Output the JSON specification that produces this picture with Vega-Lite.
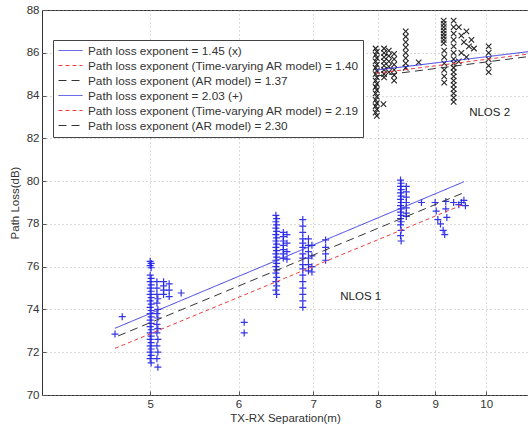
{
  "$schema": "https://vega.github.io/schema/vega-lite/v6.json",
  "width": 486,
  "height": 385,
  "autosize": "none",
  "padding": {"left": 42, "top": 10, "right": 0, "bottom": 33},
  "background": "white",
  "config": {
    "view": {"stroke": "#333", "strokeWidth": 1},
    "font": "Liberation Sans",
    "axis": {
      "labelFont": "Liberation Sans", "labelFontSize": 11.5, "labelColor": "#333",
      "titleFont": "Liberation Sans", "titleFontSize": 11.5, "titleFontWeight": "normal", "titleColor": "#333",
      "domain": false, "gridColor": "#999", "gridDash": [1, 3], "gridOpacity": 0.7,
      "tickColor": "#555", "tickSize": -4, "labelPadding": 7
    }
  },
  "datasets": {
    "nlos1": [
      {"x": 4.65, "y": 72.85}, {"x": 4.72, "y": 73.66},
      {"x": 5.0, "y": 76.25}, {"x": 5.01, "y": 76.15}, {"x": 5.0, "y": 76.05}, {"x": 5.01, "y": 75.95}, {"x": 5.0, "y": 75.6}, {"x": 5.01, "y": 75.45}, {"x": 5.0, "y": 75.3}, {"x": 5.01, "y": 75.15}, {"x": 5.0, "y": 75.0}, {"x": 5.01, "y": 74.85}, {"x": 5.0, "y": 74.7}, {"x": 5.01, "y": 74.55}, {"x": 5.0, "y": 74.4}, {"x": 5.01, "y": 74.25}, {"x": 5.0, "y": 74.1}, {"x": 5.01, "y": 73.95}, {"x": 5.0, "y": 73.8}, {"x": 5.01, "y": 73.65}, {"x": 5.0, "y": 73.5}, {"x": 5.01, "y": 73.35}, {"x": 5.0, "y": 73.2}, {"x": 5.01, "y": 73.05}, {"x": 5.0, "y": 72.9}, {"x": 5.01, "y": 72.75}, {"x": 5.0, "y": 72.6}, {"x": 5.01, "y": 72.45}, {"x": 5.0, "y": 72.3}, {"x": 5.01, "y": 72.15}, {"x": 5.0, "y": 72.0}, {"x": 5.01, "y": 71.85}, {"x": 5.0, "y": 71.7}, {"x": 5.01, "y": 71.5},
      {"x": 5.07, "y": 75.3}, {"x": 5.07, "y": 75.0}, {"x": 5.07, "y": 74.7}, {"x": 5.08, "y": 74.5}, {"x": 5.07, "y": 74.3}, {"x": 5.08, "y": 74.0}, {"x": 5.07, "y": 73.8}, {"x": 5.08, "y": 73.6}, {"x": 5.07, "y": 73.3}, {"x": 5.08, "y": 73.1}, {"x": 5.07, "y": 72.9}, {"x": 5.08, "y": 72.6}, {"x": 5.07, "y": 72.3}, {"x": 5.08, "y": 72.0}, {"x": 5.07, "y": 71.7}, {"x": 5.08, "y": 71.3},
      {"x": 5.14, "y": 75.3}, {"x": 5.14, "y": 75.1}, {"x": 5.14, "y": 74.9}, {"x": 5.14, "y": 74.7}, {"x": 5.2, "y": 75.2}, {"x": 5.2, "y": 74.9}, {"x": 5.2, "y": 74.6}, {"x": 5.33, "y": 74.77},
      {"x": 6.07, "y": 73.4}, {"x": 6.07, "y": 72.9},
      {"x": 6.48, "y": 78.4}, {"x": 6.49, "y": 78.25}, {"x": 6.48, "y": 78.1}, {"x": 6.49, "y": 77.95}, {"x": 6.48, "y": 77.8}, {"x": 6.49, "y": 77.65}, {"x": 6.48, "y": 77.5}, {"x": 6.49, "y": 77.35}, {"x": 6.48, "y": 77.2}, {"x": 6.49, "y": 77.05}, {"x": 6.48, "y": 76.9}, {"x": 6.49, "y": 76.75}, {"x": 6.48, "y": 76.6}, {"x": 6.49, "y": 76.45}, {"x": 6.48, "y": 76.3}, {"x": 6.49, "y": 76.15}, {"x": 6.48, "y": 76.0}, {"x": 6.49, "y": 75.85}, {"x": 6.48, "y": 75.7}, {"x": 6.49, "y": 75.5}, {"x": 6.48, "y": 75.3}, {"x": 6.49, "y": 75.1}, {"x": 6.48, "y": 74.9}, {"x": 6.49, "y": 74.7},
      {"x": 6.58, "y": 77.6}, {"x": 6.58, "y": 77.4}, {"x": 6.58, "y": 77.2}, {"x": 6.58, "y": 77.0}, {"x": 6.58, "y": 76.8}, {"x": 6.58, "y": 76.6}, {"x": 6.58, "y": 76.4}, {"x": 6.63, "y": 77.5}, {"x": 6.63, "y": 77.1}, {"x": 6.63, "y": 76.7}, {"x": 6.63, "y": 76.35},
      {"x": 6.85, "y": 78.2}, {"x": 6.85, "y": 77.9}, {"x": 6.85, "y": 77.6}, {"x": 6.85, "y": 77.3}, {"x": 6.85, "y": 77.1}, {"x": 6.85, "y": 76.9}, {"x": 6.85, "y": 76.6}, {"x": 6.85, "y": 76.4}, {"x": 6.85, "y": 76.1}, {"x": 6.85, "y": 75.9}, {"x": 6.85, "y": 75.6}, {"x": 6.85, "y": 75.3}, {"x": 6.85, "y": 75.0}, {"x": 6.85, "y": 74.7}, {"x": 6.85, "y": 74.4}, {"x": 6.85, "y": 74.1},
      {"x": 6.93, "y": 77.3}, {"x": 6.93, "y": 77.0}, {"x": 6.93, "y": 76.7}, {"x": 6.93, "y": 76.4}, {"x": 6.93, "y": 76.1}, {"x": 6.93, "y": 75.8}, {"x": 6.98, "y": 77.0}, {"x": 6.98, "y": 76.5}, {"x": 6.98, "y": 76.0}, {"x": 6.98, "y": 75.75},
      {"x": 7.18, "y": 77.25}, {"x": 7.18, "y": 76.9}, {"x": 7.18, "y": 76.6}, {"x": 7.18, "y": 76.3},
      {"x": 8.38, "y": 80.05}, {"x": 8.39, "y": 79.9}, {"x": 8.38, "y": 79.75}, {"x": 8.39, "y": 79.6}, {"x": 8.38, "y": 79.45}, {"x": 8.39, "y": 79.3}, {"x": 8.38, "y": 79.15}, {"x": 8.39, "y": 79.0}, {"x": 8.38, "y": 78.85}, {"x": 8.39, "y": 78.7}, {"x": 8.38, "y": 78.55}, {"x": 8.39, "y": 78.4}, {"x": 8.38, "y": 78.25}, {"x": 8.39, "y": 78.1}, {"x": 8.38, "y": 77.95}, {"x": 8.39, "y": 77.7}, {"x": 8.38, "y": 77.45}, {"x": 8.39, "y": 77.2},
      {"x": 8.48, "y": 79.75}, {"x": 8.48, "y": 79.5}, {"x": 8.48, "y": 79.25}, {"x": 8.48, "y": 79.0}, {"x": 8.48, "y": 78.75}, {"x": 8.48, "y": 78.5}, {"x": 8.48, "y": 78.35},
      {"x": 8.75, "y": 79.0},
      {"x": 9.0, "y": 79.0}, {"x": 9.02, "y": 78.6}, {"x": 9.05, "y": 78.2}, {"x": 9.1, "y": 78.0}, {"x": 9.15, "y": 77.7}, {"x": 9.18, "y": 77.5}, {"x": 9.2, "y": 79.05}, {"x": 9.2, "y": 78.7}, {"x": 9.22, "y": 78.3},
      {"x": 9.35, "y": 79.0}, {"x": 9.45, "y": 78.9}, {"x": 9.5, "y": 79.0}, {"x": 9.58, "y": 78.85}, {"x": 9.55, "y": 79.1}
    ],
    "nlos2": [
      {"x": 7.96, "y": 86.2}, {"x": 7.98, "y": 86.05}, {"x": 7.96, "y": 85.9}, {"x": 7.98, "y": 85.75}, {"x": 7.96, "y": 85.6}, {"x": 7.98, "y": 85.45}, {"x": 7.96, "y": 85.3}, {"x": 7.98, "y": 85.15}, {"x": 7.96, "y": 85.0}, {"x": 7.98, "y": 84.85}, {"x": 7.96, "y": 84.7}, {"x": 7.98, "y": 84.55}, {"x": 7.96, "y": 84.4}, {"x": 7.98, "y": 84.25}, {"x": 7.96, "y": 84.1}, {"x": 7.98, "y": 83.95}, {"x": 7.96, "y": 83.8}, {"x": 7.98, "y": 83.65}, {"x": 7.96, "y": 83.5}, {"x": 7.98, "y": 83.35}, {"x": 7.96, "y": 83.2}, {"x": 7.98, "y": 83.05},
      {"x": 8.1, "y": 86.2}, {"x": 8.1, "y": 86.0}, {"x": 8.1, "y": 85.8}, {"x": 8.1, "y": 85.6}, {"x": 8.1, "y": 85.4}, {"x": 8.1, "y": 85.2}, {"x": 8.1, "y": 85.0}, {"x": 8.1, "y": 84.85}, {"x": 8.09, "y": 83.6},
      {"x": 8.18, "y": 86.1}, {"x": 8.18, "y": 85.85}, {"x": 8.18, "y": 85.6}, {"x": 8.18, "y": 85.35}, {"x": 8.18, "y": 85.1},
      {"x": 8.27, "y": 85.95}, {"x": 8.27, "y": 85.7}, {"x": 8.27, "y": 85.45}, {"x": 8.27, "y": 85.2}, {"x": 8.27, "y": 84.95}, {"x": 8.27, "y": 84.7},
      {"x": 8.47, "y": 87.0}, {"x": 8.47, "y": 86.75}, {"x": 8.47, "y": 86.5}, {"x": 8.47, "y": 86.25}, {"x": 8.47, "y": 86.0}, {"x": 8.47, "y": 85.75}, {"x": 8.47, "y": 85.5}, {"x": 8.47, "y": 85.3},
      {"x": 8.7, "y": 85.55},
      {"x": 9.16, "y": 87.5}, {"x": 9.16, "y": 87.35}, {"x": 9.16, "y": 87.2}, {"x": 9.16, "y": 87.05}, {"x": 9.16, "y": 86.9}, {"x": 9.16, "y": 86.75}, {"x": 9.16, "y": 86.6}, {"x": 9.16, "y": 86.45}, {"x": 9.17, "y": 86.1}, {"x": 9.17, "y": 85.8}, {"x": 9.17, "y": 85.5}, {"x": 9.17, "y": 85.2}, {"x": 9.17, "y": 84.9}, {"x": 9.17, "y": 84.6},
      {"x": 9.35, "y": 87.5}, {"x": 9.35, "y": 87.2}, {"x": 9.35, "y": 86.9}, {"x": 9.35, "y": 86.6}, {"x": 9.35, "y": 86.3}, {"x": 9.35, "y": 86.0}, {"x": 9.35, "y": 85.7}, {"x": 9.35, "y": 85.5}, {"x": 9.35, "y": 85.3}, {"x": 9.35, "y": 85.1}, {"x": 9.35, "y": 84.9}, {"x": 9.35, "y": 84.7}, {"x": 9.35, "y": 84.5}, {"x": 9.35, "y": 84.3}, {"x": 9.35, "y": 84.1}, {"x": 9.35, "y": 83.9}, {"x": 9.35, "y": 83.7},
      {"x": 9.45, "y": 87.2}, {"x": 9.5, "y": 86.8}, {"x": 9.55, "y": 86.5}, {"x": 9.6, "y": 87.0}, {"x": 9.65, "y": 86.3}, {"x": 9.7, "y": 86.6}, {"x": 9.5, "y": 86.0}, {"x": 9.6, "y": 85.8}, {"x": 9.75, "y": 86.2}, {"x": 9.45, "y": 85.6},
      {"x": 10.05, "y": 86.3}, {"x": 10.05, "y": 86.0}, {"x": 10.05, "y": 85.7}, {"x": 10.05, "y": 85.4}, {"x": 10.05, "y": 85.1}
    ],
    "fits": [
      {"s": "Path loss exponent = 1.45 (x)", "x": 7.97, "y": 85.19}, {"s": "Path loss exponent = 1.45 (x)", "x": 10.9, "y": 86.05},
      {"s": "Path loss exponent (Time-varying AR model) = 1.40", "x": 7.97, "y": 85.04}, {"s": "Path loss exponent (Time-varying AR model) = 1.40", "x": 10.9, "y": 85.94},
      {"s": "Path loss exponent (AR model) = 1.37", "x": 7.97, "y": 84.91}, {"s": "Path loss exponent (AR model) = 1.37", "x": 10.9, "y": 85.82},
      {"s": "Path loss exponent = 2.03 (+)", "x": 4.65, "y": 73.12}, {"s": "Path loss exponent = 2.03 (+)", "x": 9.55, "y": 79.97},
      {"s": "Path loss exponent (Time-varying AR model) = 2.19", "x": 4.65, "y": 72.18}, {"s": "Path loss exponent (Time-varying AR model) = 2.19", "x": 9.55, "y": 78.92},
      {"s": "Path loss exponent (AR model) = 2.30", "x": 4.68, "y": 72.76}, {"s": "Path loss exponent (AR model) = 2.30", "x": 9.55, "y": 79.46}
    ],
    "notes": [
      {"label": "NLOS 1", "x": 7.72, "y": 74.58},
      {"label": "NLOS 2", "x": 10.07, "y": 83.18}
    ]
  },
  "encoding": {
    "x": {"field": "x", "type": "quantitative", "scale": {"type": "log", "domain": [4, 10.9], "nice": false},
          "axis": {"values": [5, 6, 7, 8, 9, 10], "format": "d", "title": "TX-RX Separation(m)", "titlePadding": 3}},
    "y": {"field": "y", "type": "quantitative", "scale": {"domain": [70, 88], "nice": false, "zero": false},
          "axis": {"values": [70, 72, 74, 76, 78, 80, 82, 84, 86, 88], "title": "Path Loss(dB)", "titlePadding": 6}}
  },
  "layer": [
    {
      "data": {"name": "nlos2"},
      "mark": {"type": "point", "shape": "M-1,-1L1,1M-1,1L1,-1", "size": 30, "filled": false, "stroke": "#1a1a1a", "strokeWidth": 1.1, "opacity": 0.95}
    },
    {
      "data": {"name": "nlos1"},
      "mark": {"type": "point", "shape": "M-1,0H1M0,-1V1", "size": 49, "filled": false, "stroke": "#1f1fe6", "strokeWidth": 1.2, "opacity": 0.9}
    },
    {
      "data": {"name": "fits"},
      "mark": {"type": "line", "strokeWidth": 1, "clip": true},
      "encoding": {
        "color": {"field": "s", "type": "nominal",
          "scale": {"domain": ["Path loss exponent = 1.45 (x)", "Path loss exponent (Time-varying AR model) = 1.40", "Path loss exponent (AR model) = 1.37", "Path loss exponent = 2.03 (+)", "Path loss exponent (Time-varying AR model) = 2.19", "Path loss exponent (AR model) = 2.30"],
                    "range": ["#3a3ae0", "#f03c3c", "#333333", "#3a3ae0", "#f03c3c", "#333333"]},
          "legend": {"title": null, "orient": "none", "legendX": 11, "legendY": 30, "symbolType": "M-2,0H2", "symbolSize": 144, "symbolStrokeWidth": 1, "symbolOffset": 7, "labelOffset": 11,
                     "labelFont": "Liberation Sans", "labelFontSize": 11.8, "labelColor": "#333", "labelLimit": 400, "fillColor": "white", "strokeColor": "#444", "padding": 4, "rowPadding": 1}},
        "strokeDash": {"field": "s", "type": "nominal",
          "scale": {"domain": ["Path loss exponent = 1.45 (x)", "Path loss exponent (Time-varying AR model) = 1.40", "Path loss exponent (AR model) = 1.37", "Path loss exponent = 2.03 (+)", "Path loss exponent (Time-varying AR model) = 2.19", "Path loss exponent (AR model) = 2.30"],
                    "range": [[1, 0], [4, 3], [8, 5], [1, 0], [4, 3], [8, 5]]},
          "legend": {"title": null, "orient": "none", "legendX": 11, "legendY": 30, "symbolType": "M-2,0H2", "symbolSize": 144, "symbolStrokeWidth": 1, "symbolOffset": 7, "labelOffset": 11,
                     "labelFont": "Liberation Sans", "labelFontSize": 11.8, "labelColor": "#333", "labelLimit": 400, "fillColor": "white", "strokeColor": "#444", "padding": 4, "rowPadding": 1}}
      }
    },
    {
      "data": {"name": "notes"},
      "mark": {"type": "text", "font": "Liberation Sans", "fontSize": 11.5, "color": "#222", "align": "center", "baseline": "middle"},
      "encoding": {"text": {"field": "label"}}
    }
  ]
}
